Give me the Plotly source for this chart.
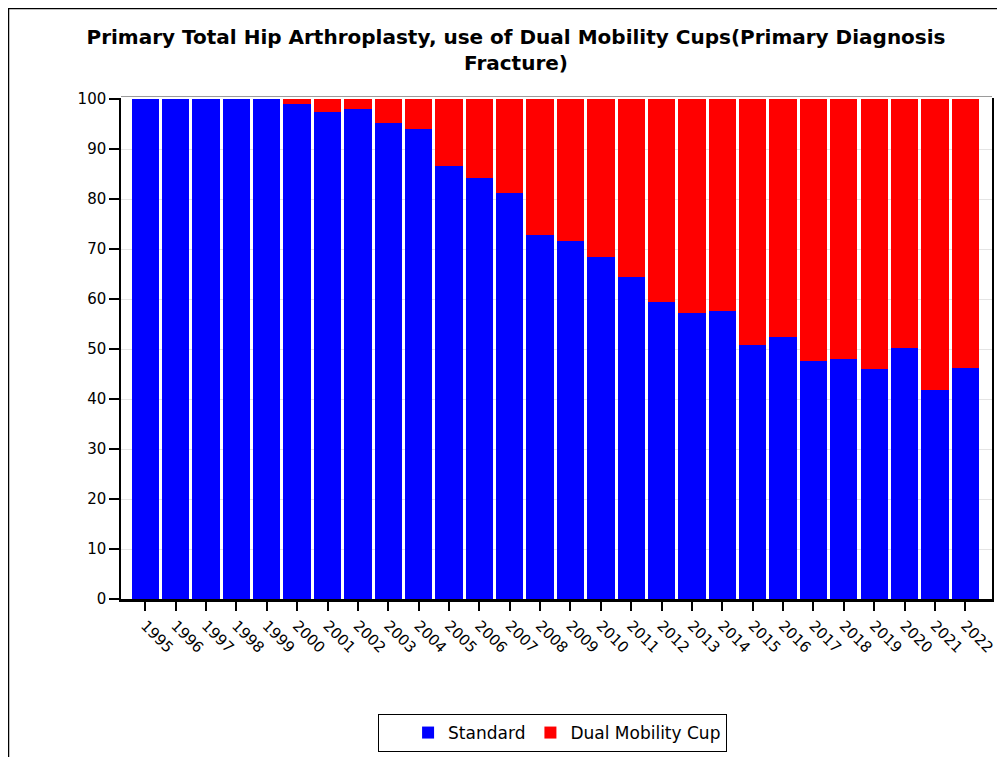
import plotly.graph_objects as go

# years on the x axis
years = [str(y) for y in range(1995, 2023)]

# share (%) of primary THA with fracture diagnosis, per cup type
standard = [100, 100, 100, 100, 100, 99.0, 97.5, 98.0, 95.3, 94.0,
            86.7, 84.2, 81.3, 72.9, 71.7, 68.5, 64.5, 59.5, 57.3, 57.6,
            50.8, 52.5, 47.7, 48.0, 46.1, 50.3, 41.8, 46.3]
dual_mobility = [0, 0, 0, 0, 0, 1.0, 2.5, 2.0, 4.7, 6.0,
                 13.3, 15.8, 18.7, 27.1, 28.3, 31.5, 35.5, 40.5, 42.7, 42.4,
                 49.2, 47.5, 52.3, 52.0, 53.9, 49.7, 58.2, 53.7]

y_ticks = list(range(0, 101, 10))

# the page body has an 8px margin, so the figure is a bit smaller than the window
OFF = 8
W, H = 1005 - OFF, 757 - OFF
L, R, T, B = 121 - OFF, 13, 98 - OFF, 158
pw, ph = W - L - R, H - T - B


def px_x(page_x):
    return (page_x - OFF - L) / pw


def px_y(page_y):
    return 1 - (page_y - OFF - T) / ph


def main():
    fig = go.Figure()
    fig.add_trace(go.Bar(x=years, y=standard, name="Standard",
                         marker=dict(color="#0000ff", line=dict(width=0))))
    fig.add_trace(go.Bar(x=years, y=dual_mobility, name="Dual Mobility Cup",
                         marker=dict(color="#ff0000", line=dict(width=0))))

    fig.update_layout(
        width=W, height=H,
        margin=dict(l=L, r=R, t=T, b=B, autoexpand=False),
        barmode="stack",
        bargap=0.1,
        paper_bgcolor="white",
        plot_bgcolor="white",
        font=dict(family="DejaVu Sans", size=15, color="black"),
        title=dict(
            text="Primary Total Hip Arthroplasty, use of Dual Mobility Cups(Primary Diagnosis<br>Fracture)",
            font=dict(family="DejaVu Sans", size=20, color="black", weight="bold"),
            xref="paper", x=px_x(516), xanchor="center",
            yref="container", y=1 - 36 / H, yanchor="top",
        ),
        xaxis=dict(
            type="category",
            range=[-0.8, 27.88],
            showline=True, linecolor="black", linewidth=3,
            ticks="outside", ticklen=9, tickwidth=1.5, tickcolor="black",
            tickangle=45,
            showgrid=False, zeroline=False,
        ),
        yaxis=dict(
            range=[0, 100.2],
            tickvals=y_ticks,
            showline=True, linecolor="black", linewidth=1.5, mirror=True,
            ticks="outside", ticklen=10, tickwidth=1.5, tickcolor="black",
            showgrid=True, gridcolor="#e4e4e4", gridwidth=1,
            zeroline=False,
        ),
        legend=dict(
            orientation="h",
            traceorder="normal",
            xref="paper", yref="paper",
            x=px_x(378), xanchor="left",
            y=px_y(714), yanchor="top",
            bordercolor="black", borderwidth=1,
            title=dict(text="\u00a0" * 3, side="left"),
            font=dict(size=17),
        ),
        shapes=[
            # top frame line of plot area
            dict(type="line", xref="paper", yref="paper", x0=0, x1=1, y0=1.003, y1=1.003,
                 line=dict(color="#9a9a9a", width=1)),
            # outer border of the picture
            dict(type="rect", xref="paper", yref="paper",
                 x0=-(L - 0.5) / pw, x1=1.5, y0=-1.0, y1=1 + (T - 0.5) / ph,
                 line=dict(color="black", width=1.5), layer="below"),
        ],
    )

    fig.write_html("out.html")


if __name__ == "__main__":
    main()
